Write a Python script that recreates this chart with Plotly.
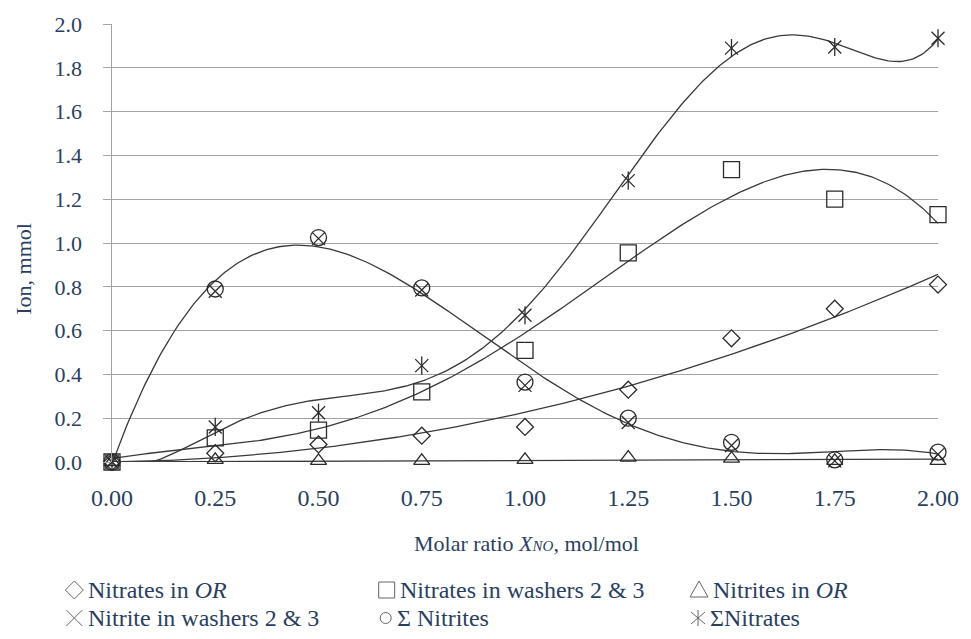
import numpy as np
import plotly.graph_objects as go

# Molar ratio X_NO (mol/mol) and measured ion amounts (mmol)
ratio = [0.0, 0.25, 0.5, 0.75, 1.0, 1.25, 1.5, 1.75, 2.0]
nitrates_or = [0.0, 0.04, 0.08, 0.12, 0.16, 0.33, 0.565, 0.70, 0.81]
nitrates_washers = [0.0, 0.11, 0.146, 0.32, 0.51, 0.955, 1.335, 1.20, 1.13]
nitrites_or = [0.0, 0.01, 0.005, 0.005, 0.01, 0.02, 0.015, 0.005, 0.005]
nitrite_washers = [0.0, 0.78, 1.02, 0.785, 0.35, 0.18, 0.075, 0.005, 0.035]
sum_nitrites = [0.0, 0.79, 1.025, 0.795, 0.365, 0.20, 0.09, 0.01, 0.045]
sum_nitrates = [0.0, 0.16, 0.225, 0.44, 0.67, 1.285, 1.89, 1.895, 1.935]

x_ticks = [0.0, 0.25, 0.5, 0.75, 1.0, 1.25, 1.5, 1.75, 2.0]
x_tick_text = ["0.00", "0.25", "0.50", "0.75", "1.00", "1.25", "1.50", "1.75", "2.00"]
y_ticks = [0.0, 0.2, 0.4, 0.6, 0.8, 1.0, 1.2, 1.4, 1.6, 1.8, 2.0]
y_tick_text = ["0.0", "0.2", "0.4", "0.6", "0.8", "1.0", "1.2", "1.4", "1.6", "1.8", "2.0"]

SERIF = "Liberation Serif"
MARK = "#2b2b2b"
LINE = "#3a3a3a"
GRID = "#a3a3a3"
PAD = "\u00a0\u00a0\u00a0"  # gap between y tick labels and their tick marks

W, H = 971, 639
L, R, T, B = 112, 26, 24, 177
PW, PH = W - L - R, H - T - B


def px_x(p):
    return (p - L) / PW


def px_y(p):
    return (H - B - p) / PH


def trend(xs, ys, degree, through_origin=False, n=300):
    """Polynomial least-squares trend line."""
    x = np.asarray(xs, float)
    y = np.asarray(ys, float)
    xf = np.linspace(x.min(), x.max(), n)
    if through_origin:
        A = np.vstack([x ** k for k in range(1, degree + 1)]).T
        coef, *_ = np.linalg.lstsq(A, y, rcond=None)
        return xf, sum(c * xf ** (k + 1) for k, c in enumerate(coef))
    return xf, np.polyval(np.polyfit(x, y, degree), xf)


fig = go.Figure()

# trend curves
for ys, deg, origin in [(nitrites_or, 1, True), (nitrates_or, 2, True),
                        (nitrates_washers, 4, False), (sum_nitrites, 5, False),
                        (sum_nitrates, 6, False)]:
    xf, yf = trend(ratio, ys, deg, origin)
    fig.add_trace(go.Scatter(x=xf, y=yf, mode="lines", showlegend=False,
                             line=dict(color=LINE, width=1.3)))

# measured points
series = [
    (nitrates_or, "diamond-open", 13),
    (nitrates_washers, "square-open", 16),
    (nitrites_or, "triangle-up-open", 14),
    (nitrite_washers, "x-thin-open", 13),
    (sum_nitrites, "circle-open", 16),
    (sum_nitrates, "x-thin-open", 13),
    (sum_nitrates, "line-ns-open", 13),
]
for ys, sym, size in series:
    fig.add_trace(go.Scatter(
        x=ratio, y=ys, mode="markers", showlegend=False, cliponaxis=False,
        marker=dict(symbol=sym, size=size, color=MARK,
                    line=dict(color=MARK, width=1.3)),
    ))

fig.update_xaxes(
    range=[0, 2], tickvals=x_ticks, ticktext=x_tick_text,
    showgrid=False, zeroline=False, showline=False,
    ticks="outside", ticklen=14, tickcolor="rgba(0,0,0,0)",
    tickfont=dict(family=SERIF, size=24),
)
fig.update_yaxes(
    range=[0, 2], tickvals=y_ticks, ticktext=[t + PAD for t in y_tick_text],
    showgrid=True, gridcolor=GRID, gridwidth=1, zeroline=False,
    showline=True, linecolor=GRID, linewidth=1,
    ticks="outside", ticklen=8, tickcolor=GRID, tickwidth=1,
    tickfont=dict(family=SERIF, size=22),
)

annotations = [
    dict(text='Molar ratio <i>X<span style="font-size:15px">NO</span></i>, mol/mol',
         x=px_x(530), y=px_y(543), font=dict(family=SERIF, size=22)),
    dict(text="Ion, mmol", x=px_x(22), y=px_y(269), textangle=-90,
         font=dict(family=SERIF, size=22)),
]

# legend rows: key glyph, key centre (px), text start (px), label
legend_items = [
    ("diamond", 74, 590, 86, "Nitrates in <i>OR</i>"),
    ("square", 389, 590, 400, "Nitrates in washers 2 &amp; 3"),
    ("triangle", 704, 590, 716, "Nitrites in <i>OR</i>"),
    ("x", 74, 618, 86, "Nitrite in washers 2 &amp; 3"),
    ("circle", 388, 618, 397, "\u03a3 Nitrites"),
    ("asterisk", 703, 618, 713, "\u03a3Nitrates"),
]
glyphs = {
    "diamond": "M-9,0L0,9L9,0L0,-9Z",
    "square": "M-8,-8H8V8H-8Z",
    "triangle": "M-9,-7H9L0,9Z",
    "x": "M-8,-8L8,8M-8,8L8,-8",
    "asterisk": "M-7,-6L7,6M-7,6L7,-6M0,-8V8",
}
shapes = []
for glyph, sx, sy, tx, label in legend_items:
    common = dict(xref="paper", yref="paper", xsizemode="pixel", ysizemode="pixel",
                  xanchor=px_x(sx), yanchor=px_y(sy), line=dict(color="#666", width=1))
    if glyph == "circle":
        shapes.append(dict(type="circle", x0=-5.5, x1=5.5, y0=-5.5, y1=5.5, **common))
    else:
        shapes.append(dict(type="path", path=glyphs[glyph], **common))
    annotations.append(dict(text=label, x=px_x(tx), y=px_y(sy), xanchor="left",
                            font=dict(family=SERIF, size=24)))

for a in annotations:
    a.setdefault("xref", "paper")
    a.setdefault("yref", "paper")
    a.setdefault("showarrow", False)
    a.setdefault("xanchor", "center")
    a.setdefault("yanchor", "middle")

fig.update_layout(
    width=W, height=H,
    margin=dict(l=L, r=R, t=T, b=B),
    plot_bgcolor="white",
    annotations=annotations, shapes=shapes,
    showlegend=False,
)

fig.write_html("out.html")
